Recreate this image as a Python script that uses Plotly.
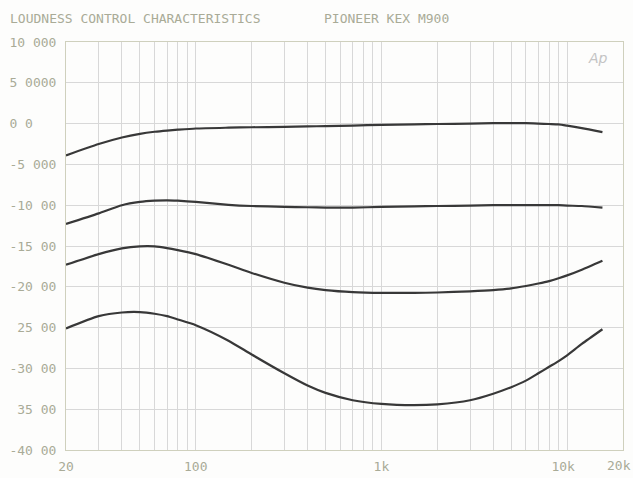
import plotly.graph_objects as go

freq = [20, 30, 40, 50, 60, 70, 80, 100, 150, 200, 300, 400, 500, 700, 1000,
        1500, 2000, 3000, 4000, 5000, 6000, 7000, 8000, 9000, 10000, 12000, 15500]

curve_0db = [-3.9, -2.5, -1.7, -1.25, -1.0, -0.85, -0.75, -0.6, -0.5, -0.45, -0.4, -0.35,
             -0.3, -0.25, -0.15, -0.1, -0.05, 0.0, 0.05, 0.05, 0.05, 0.0, -0.05, -0.1,
             -0.25, -0.55, -1.05]
curve_10db = [-12.3, -11.0, -10.0, -9.6, -9.45, -9.4, -9.45, -9.6, -9.95, -10.1, -10.2,
              -10.25, -10.3, -10.3, -10.2, -10.15, -10.1, -10.05, -10.0, -10.0, -10.0,
              -10.0, -10.0, -10.0, -10.05, -10.1, -10.3]
curve_20db = [-17.3, -16.0, -15.3, -15.05, -15.05, -15.25, -15.5, -16.0, -17.3, -18.3,
              -19.5, -20.1, -20.4, -20.65, -20.75, -20.75, -20.7, -20.55, -20.4, -20.2,
              -19.9, -19.6, -19.3, -18.95, -18.6, -17.9, -16.8]
curve_30db = [-25.1, -23.6, -23.15, -23.1, -23.3, -23.6, -24.0, -24.7, -26.6, -28.3,
              -30.6, -32.1, -33.0, -33.9, -34.35, -34.5, -34.4, -33.9, -33.1, -32.3,
              -31.5, -30.6, -29.8, -29.1, -28.4, -27.0, -25.2]

x_grid = [20, 30, 40, 50, 60, 70, 80, 90, 100, 200, 300, 400, 500, 600, 700, 800, 900,
          1000, 2000, 3000, 4000, 5000, 6000, 7000, 8000, 9000, 10000, 20000]
x_labels = {20: "20", 100: "100", 1000: "1k", 10000: "10k\u00a0"}
last_x_label = "20k"

y_ticks = [10, 5, 0, -5, -10, -15, -20, -25, -30, -35, -40]
y_labels = ["10 000", "5 0000", "0 0\u00a0\u00a0\u00a0", "-5 000", "-10 00", "-15 00",
            "-20 00", "25 00", "-30 00", "35 00", "-40 00"]

text_col = "#a9ab97"
font = dict(family="DejaVu Sans Mono", size=13, color=text_col)

fig = go.Figure()
for ys in [curve_0db, curve_10db, curve_20db, curve_30db]:
    fig.add_trace(go.Scatter(x=freq, y=ys, mode="lines",
                             line=dict(color="#383838", width=2.2, shape="spline", smoothing=0.6),
                             showlegend=False, hoverinfo="skip"))

fig.update_layout(
    width=633, height=478, autosize=False,
    margin=dict(l=66, r=10, t=41.5, b=28, autoexpand=False),
    paper_bgcolor="#fdfdfc", plot_bgcolor="#fdfdfc",
    font=font,
    xaxis=dict(type="log", range=[1.30100, 4.30106], automargin=False,
               tickvals=x_grid, ticktext=[x_labels.get(v, "") for v in x_grid],
               showgrid=True, gridcolor="#d8d8d8", gridwidth=1,
               showline=True, linecolor="#cfd0bd", linewidth=1, mirror=True,
               ticks="", tickfont=font, zeroline=False, ticklabelstandoff=4),
    yaxis=dict(range=[-40, 10], tickvals=y_ticks, ticktext=y_labels, automargin=False,
               showgrid=True, gridcolor="#d8d8d8", gridwidth=1,
               showline=True, linecolor="#cfd0bd", linewidth=1, mirror=True,
               ticks="", tickfont=font, zeroline=False, ticklabelstandoff=6),
    annotations=[
        dict(text="LOUDNESS CONTROL CHARACTERISTICS", xref="paper", yref="paper",
             x=-0.104, y=1.0575, xanchor="left", yanchor="middle", showarrow=False, font=font),
        dict(text="PIONEER KEX M900", xref="paper", yref="paper",
             x=0.4596, y=1.0575, xanchor="left", yanchor="middle", showarrow=False, font=font),
        dict(text=last_x_label, xref="paper", yref="paper",
             x=0.993, y=-0.039, xanchor="center", yanchor="middle", showarrow=False, font=font),
        dict(text="<i>Ap</i>", xref="paper", yref="paper",
             x=0.955, y=0.962, xanchor="center", yanchor="middle", showarrow=False,
             font=dict(family="DejaVu Sans", size=14, color="#c4c4c4")),
    ],
)

fig.write_html("out.html", config={"displayModeBar": False},
               post_script="document.body.style.margin='0';")
